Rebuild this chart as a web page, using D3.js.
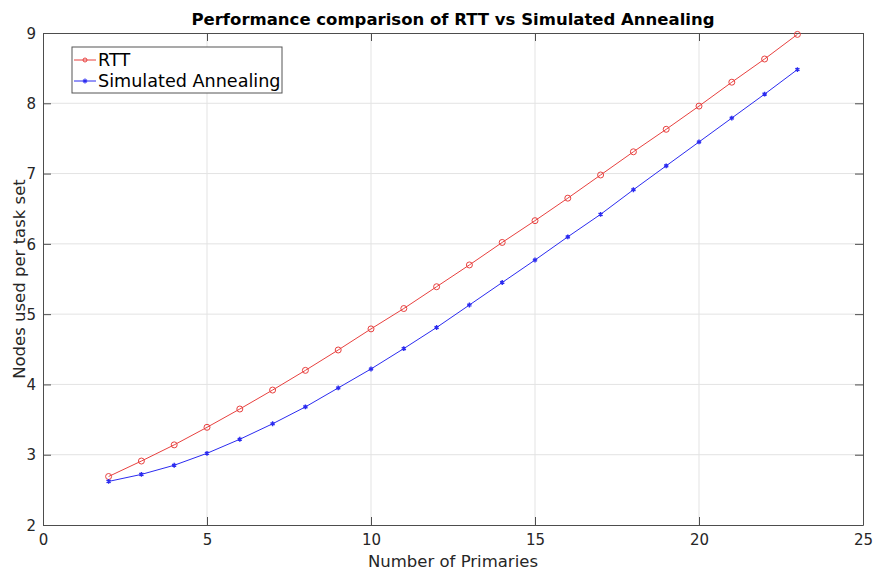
<!DOCTYPE html>
<html>
<head>
<meta charset="utf-8">
<script src="https://cdn.jsdelivr.net/npm/d3@7"></script>
<style>
  body { margin: 0; background: #fff; }
  svg { display: block; font-family: "DejaVu Sans", sans-serif; }
</style>
</head>
<body>
<div id="chart"></div>
<script>
const primaries = [2, 3, 4, 5, 6, 7, 8, 9, 10, 11, 12, 13, 14, 15, 16, 17, 18, 19, 20, 21, 22, 23];
const rttValues = [2.69, 2.91, 3.14, 3.39, 3.65, 3.92, 4.20, 4.49, 4.79, 5.08, 5.39, 5.70, 6.02, 6.33, 6.65, 6.98, 7.31, 7.63, 7.96, 8.30, 8.63, 8.98];
const saValues = [2.62, 2.72, 2.85, 3.02, 3.22, 3.44, 3.68, 3.95, 4.22, 4.51, 4.81, 5.13, 5.45, 5.77, 6.10, 6.42, 6.77, 7.11, 7.45, 7.79, 8.13, 8.48];
const xTicks = [0, 5, 10, 15, 20, 25];
const yTicks = [2, 3, 4, 5, 6, 7, 8, 9];

const COLORS = { rtt: "#e8413f", sa: "#2b2bf0", axis: "#4d4d4d", grid: "#e3e3e3", text: "#262626" };

const width = 875;
const height = 572;
const margin = { top: 33, right: 12, bottom: 47, left: 43 };
const innerWidth = width - margin.left - margin.right;
const innerHeight = height - margin.top - margin.bottom;

const svg = d3.select("#chart").append("svg")
  .attr("width", width)
  .attr("height", height);

const g = svg.append("g").attr("transform", `translate(${margin.left},${margin.top})`);

const x = d3.scaleLinear().domain([0, 25]).range([0, innerWidth]);
const y = d3.scaleLinear().domain([2, 9]).range([innerHeight, 0]);

// grid
g.append("g").selectAll("line").data(xTicks.slice(1, -1)).join("line")
  .attr("x1", (d) => x(d)).attr("x2", (d) => x(d))
  .attr("y1", 0).attr("y2", innerHeight)
  .attr("stroke", COLORS.grid);
g.append("g").selectAll("line").data(yTicks.slice(1, -1)).join("line")
  .attr("y1", (d) => y(d)).attr("y2", (d) => y(d))
  .attr("x1", 0).attr("x2", innerWidth)
  .attr("stroke", COLORS.grid);

// axes (ticks inside, box all round)
const xAxis = g.append("g").attr("transform", `translate(0,${innerHeight})`)
  .call(d3.axisBottom(x).tickValues(xTicks).tickFormat(d3.format("d")).tickSize(-8).tickPadding(9).tickSizeOuter(0));
const yAxis = g.append("g")
  .call(d3.axisLeft(y).tickValues(yTicks).tickFormat(d3.format("d")).tickSize(-8).tickPadding(7).tickSizeOuter(0));
g.append("g")
  .call(d3.axisTop(x).tickValues(xTicks).tickSize(-8).tickFormat("").tickSizeOuter(0));
g.append("g").attr("transform", `translate(${innerWidth},0)`)
  .call(d3.axisRight(y).tickValues(yTicks).tickSize(-8).tickFormat("").tickSizeOuter(0));

g.selectAll(".domain, .tick line").attr("stroke", COLORS.axis);
g.selectAll(".tick text").attr("fill", COLORS.text).attr("font-size", 15)
  .attr("font-family", "DejaVu Sans, sans-serif");
yAxis.selectAll(".tick text").attr("dy", "0.35em");

// series
const line = d3.line().x((d) => x(d.x)).y((d) => y(d.y));
const rtt = primaries.map((p, i) => ({ x: p, y: rttValues[i] }));
const sa = primaries.map((p, i) => ({ x: p, y: saValues[i] }));

g.append("path").datum(rtt).attr("d", line)
  .attr("fill", "none").attr("stroke", COLORS.rtt).attr("stroke-width", 1);
g.append("g").selectAll("circle").data(rtt).join("circle")
  .attr("cx", (d) => x(d.x)).attr("cy", (d) => y(d.y)).attr("r", 3)
  .attr("fill", "none").attr("stroke", COLORS.rtt).attr("stroke-width", 1);

g.append("path").datum(sa).attr("d", line)
  .attr("fill", "none").attr("stroke", COLORS.sa).attr("stroke-width", 1);
const star = d3.symbol().type(d3.symbolAsterisk).size(16);
g.append("g").selectAll("path").data(sa).join("path")
  .attr("transform", (d) => `translate(${x(d.x)},${y(d.y)})`)
  .attr("d", star)
  .attr("fill", "none").attr("stroke", COLORS.sa).attr("stroke-width", 1.4);

// legend
const legend = svg.append("g").attr("transform", "translate(72,47)");
legend.append("rect").attr("width", 210).attr("height", 46)
  .attr("fill", "#fff").attr("stroke", "#555").attr("stroke-width", 1);
const items = [
  { label: "RTT", color: COLORS.rtt, marker: "circle" },
  { label: "Simulated Annealing", color: COLORS.sa, marker: "star" },
];
items.forEach((it, i) => {
  const cy = 13 + i * 21;
  const row = legend.append("g").attr("transform", `translate(0,${cy})`);
  row.append("line").attr("x1", 2).attr("x2", 24).attr("stroke", it.color);
  if (it.marker === "circle") {
    row.append("circle").attr("cx", 13).attr("r", 2).attr("fill", "none").attr("stroke", it.color);
  } else {
    row.append("path").attr("transform", "translate(13,0)").attr("d", star)
      .attr("fill", "none").attr("stroke", it.color).attr("stroke-width", 1.2);
  }
  row.append("text").attr("x", 26).attr("dy", "0.35em")
    .attr("font-size", 17.6).attr("fill", "#000").text(it.label);
});

// title and labels
svg.append("text").attr("x", margin.left + innerWidth / 2).attr("y", 25)
  .attr("text-anchor", "middle").attr("font-size", 16.5).attr("font-weight", "bold")
  .attr("fill", "#000").text("Performance comparison of RTT vs Simulated Annealing");

svg.append("text").attr("x", margin.left + innerWidth / 2).attr("y", 567)
  .attr("text-anchor", "middle").attr("font-size", 16.5).attr("fill", COLORS.text)
  .text("Number of Primaries");

svg.append("text").attr("transform", `translate(25,${margin.top + innerHeight / 2}) rotate(-90)`)
  .attr("text-anchor", "middle").attr("font-size", 16.5).attr("fill", COLORS.text)
  .text("Nodes used per task set");
</script>
</body>
</html>
